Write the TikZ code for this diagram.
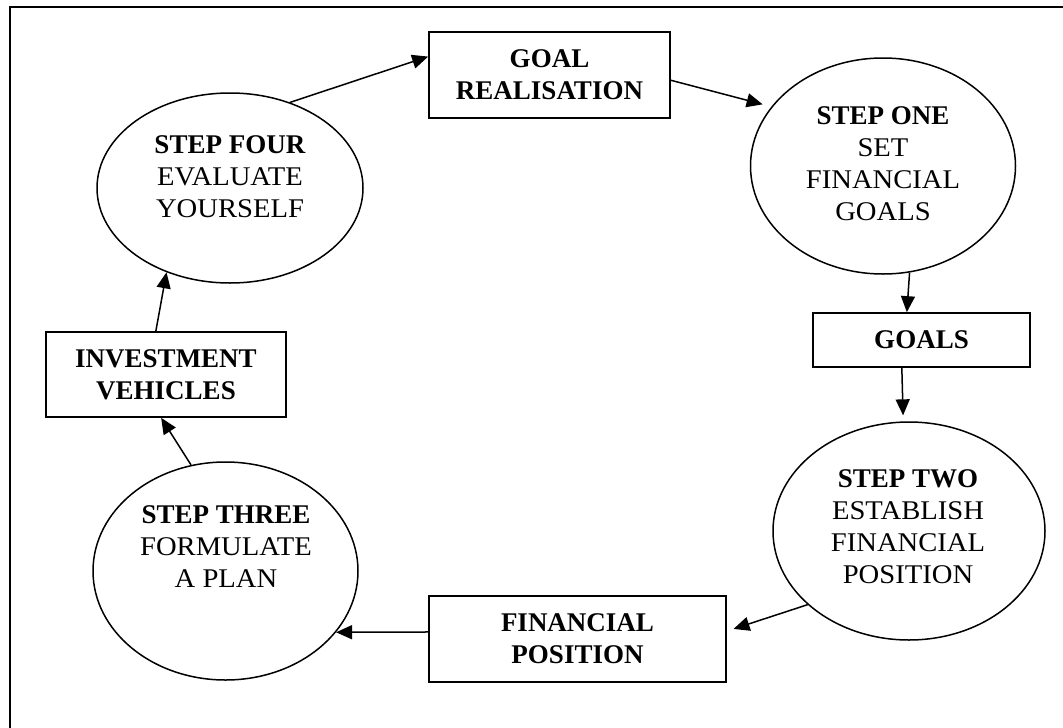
\documentclass[tikz,border=0pt]{standalone}
\usepackage{fontspec}
\setmainfont{Liberation Serif}[FakeStretch=1.06,BoldFeatures={FakeStretch=1.0}]
\usetikzlibrary{shapes.geometric,arrows.meta,calc}
\begin{document}
\begin{tikzpicture}[x=1pt,y=-1pt,
  ell/.style={draw,ellipse,line width=1.5pt,inner sep=0pt},
  box/.style={draw,rectangle,line width=1.7pt,inner sep=0pt,align=center,font=\bfseries\fontsize{27}{32}\selectfont},
  etext/.style={align=center,inner sep=0pt,font=\fontsize{27}{32}\selectfont},
  arr/.style={line width=1.5pt,-{Triangle[length=16pt,width=14pt]}}]
\useasboundingbox (0,0) rectangle (1063,728);
\draw[line width=2.5pt] (10,728) -- (10,7) -- (1063,7);

% ellipses
\node[ell,minimum width=266pt,minimum height=190pt] (s4) at (230,188) {};
\node[etext] (s4t) at (230,176.5) {\textbf{STEP FOUR}\\EVALUATE\\YOURSELF};
\node[ell,minimum width=265pt,minimum height=216pt] (s1) at (883,166) {};
\node[etext] (s1t) at (883,163.5) {\textbf{STEP ONE}\\SET\\FINANCIAL\\GOALS};
\node[ell,minimum width=272pt,minimum height=218pt] (s2) at (909,531) {};
\node[etext] (s2t) at (908,526.5) {\textbf{STEP TWO}\\ESTABLISH\\FINANCIAL\\POSITION};
\node[ell,minimum width=265pt,minimum height=218pt] (s3) at (225.5,571) {};
\node[etext] (s3t) at (226,547) {\textbf{STEP THREE}\\FORMULATE\\A PLAN};

% boxes
\node[box,minimum width=241pt,minimum height=86pt] (gr) at (549.5,75) {GOAL\\REALISATION};
\node[box,minimum width=217pt,minimum height=54pt] (goals) at (921.5,340) {GOALS};
\node[box,minimum width=240pt,minimum height=85pt] (iv) at (166,374.5) {INVESTMENT\\VEHICLES};
\node[box,minimum width=297pt,minimum height=86pt] (fp) at (577.5,639) {FINANCIAL\\POSITION};

% connectors
\draw[arr] (s4.55.7) -- ($(gr.north west)!0.29!(gr.south west)$);
\draw[arr,shorten >=9pt] ($(gr.north east)!0.56!(gr.south east)$) -- (s1.152);
\draw[arr] (s1.-76.3) -- ($(goals.north west)!0.433!(goals.north east)$);
\draw[arr,shorten >=6pt] ($(goals.south west)!0.41!(goals.south east)$) -- (s2.93.5);
\draw[arr,shorten >=7pt] (s2.216.3) -- ($(fp.north east)!0.41!(fp.south east)$);
\draw[arr] ($(fp.north west)!0.42!(fp.south west)$) -- (s3.-29.1);
\draw[arr] (s3.108.2) -- ($(iv.south west)!0.48!(iv.south east)$);
\draw[arr] ($(iv.north west)!0.458!(iv.north east)$) -- (s4.233);
\end{tikzpicture}
\end{document}
